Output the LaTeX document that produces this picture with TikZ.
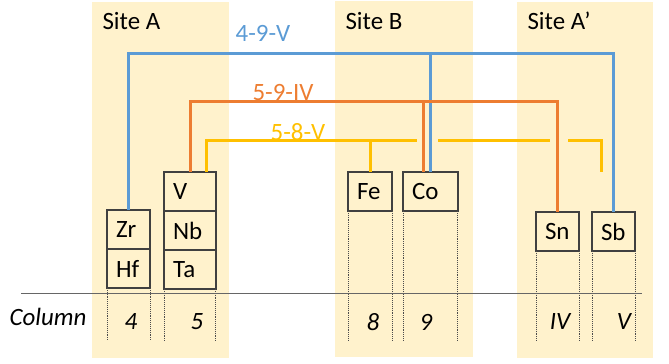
\documentclass[tikz,border=0pt]{standalone}
\usepackage{fontspec}
\setmainfont{Carlito}
\usetikzlibrary{positioning}

\definecolor{siteBg}{HTML}{FFF2CC}
\definecolor{bondBlue}{HTML}{5B9BD5}
\definecolor{bondOrange}{HTML}{ED7D31}
\definecolor{bondYellow}{HTML}{FFC000}

\begin{document}
\begin{tikzpicture}[x=1bp,y=-1bp,
   every node/.style={font=\fontsize{25}{27}\selectfont},
   elem/.style={draw=black!75,line width=1.6bp,outer sep=0pt,text width=#1,
      inner xsep=9bp,inner ysep=0pt,align=left,minimum height=39bp},
   bond/.style={line width=3bp},
   colline/.style={densely dotted,line width=0.9bp,black!70},
   colnum/.style={font=\fontsize{25}{27}\selectfont\itshape}]

\useasboundingbox (0,0) rectangle (669,363);

% sites
\fill[siteBg] (92,2) rectangle (229,358);
\fill[siteBg] (335,1) rectangle (473,357);
\fill[siteBg] (517,2) rectangle (653,358);
\node[anchor=west] (siteA) at (99,21) {Site A};
\node[anchor=west] (siteB) at (342,21) {Site B};
\node[anchor=west] (siteAp) at (524,21) {Site A’};

% elements
\node[elem=25] (zr) at (128.5,229.5) {Zr};
\node[elem=25,below=0pt of zr] (hf) {Hf};
\node[elem=34] (v) at (190,191.5) {V};
\node[elem=34,below=0pt of v] (nb) {Nb};
\node[elem=34,below=0pt of nb] (ta) {Ta};
\node[elem=26] (fe) at (370,191.5) {Fe};
\node[elem=37] (co) at (430.5,191.5) {Co};
\node[elem=25] (sn) at (557.5,231.5) {Sn};
\node[elem=25] (sb) at (613.5,231.5) {Sb};

% columns
\coordinate (colBase) at (0,341);
\foreach \n in {hf,ta,fe,co,sn,sb}{
  \draw[colline] (\n.south west) -- (\n.south west |- colBase);
  \draw[colline] (\n.south east) -- (\n.south east |- colBase);
}
\coordinate (axisL) at (21,293);
\coordinate (axisR) at (642,293);
\draw[black!60,line width=1bp] (axisL) -- (axisR);
\node[colnum] (colLabel) at (48,317) {Column};
\node[colnum] (c4) at (131,322) {4};
\node[colnum] (c5) at (197,322) {5};
\node[colnum] (c8) at (373,322) {8};
\node[colnum] (c9) at (426,322) {9};
\node[colnum] (cIV) at (560,322) {IV};
\node[colnum] (cV) at (624,322) {V};

% 4-9-V
\coordinate (blueTop) at (431,53);
\draw[bond,bondBlue] (zr.north) |- (blueTop) -| (sb.north);
\draw[bond,bondBlue] (co.north) -- (co.north |- blueTop);
\node[text=bondBlue] (lblBlue) at (263,33) {4-9-V};

% 5-9-IV
\coordinate (orangeTop) at (423,101);
\draw[bond,bondOrange] (v.north) |- (orangeTop) -| (sn.north);
\draw[bond,bondOrange] (orangeTop |- co.north) -- (orangeTop);
\node[text=bondOrange] (lblOrange) at (283,92) {5-9-IV};

% 5-8-V
\coordinate (yA) at (417,140);
\coordinate (yB) at (438,140);
\coordinate (yC) at (550,140);
\coordinate (yD) at (568,140);
\coordinate (yEnd) at (601,172);
\draw[bond,bondYellow] ([xshift=16bp]v.north) |- (yA);
\draw[bond,bondYellow] (yB) -- (yC);
\draw[bond,bondYellow] (yD) -| (yEnd);
\draw[bond,bondYellow] (fe.north) -- (fe.north |- yA);
\node[text=bondYellow] (lblYellow) at (298,132) {5-8-V};

\end{tikzpicture}
\end{document}
